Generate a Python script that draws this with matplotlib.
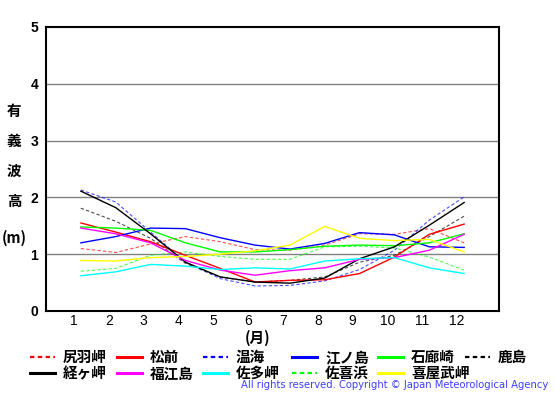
import matplotlib
matplotlib.use("Agg")
import matplotlib.pyplot as plt
from matplotlib.lines import Line2D

# Monthly mean significant wave height (m)
months = list(range(1, 13))
month_labels = [str(m) for m in months]

shiriha = [1.10, 1.03, 1.18, 1.31, 1.22, 1.08, 1.07, 1.16, 1.36, 1.35, 1.45, 1.20]
matsumae = [1.55, 1.39, 1.22, 0.98, 0.75, 0.51, 0.54, 0.55, 0.66, 0.95, 1.35, 1.53]
atsumi = [2.13, 1.92, 1.39, 0.86, 0.57, 0.44, 0.45, 0.53, 0.73, 1.07, 1.60, 2.01]
enoshima = [1.20, 1.31, 1.46, 1.45, 1.29, 1.16, 1.09, 1.19, 1.38, 1.34, 1.13, 1.12]
irozaki = [1.48, 1.46, 1.42, 1.20, 1.04, 1.04, 1.08, 1.14, 1.16, 1.15, 1.20, 1.36]
kashima = [1.81, 1.58, 1.28, 0.84, 0.60, 0.51, 0.54, 0.60, 0.86, 0.98, 1.31, 1.67]
kyogamisaki = [2.11, 1.82, 1.36, 0.86, 0.60, 0.51, 0.49, 0.58, 0.92, 1.13, 1.51, 1.91]
fukuejima = [1.46, 1.36, 1.20, 0.89, 0.72, 0.63, 0.71, 0.76, 0.91, 0.94, 1.07, 1.35]
satamisaki = [0.62, 0.69, 0.82, 0.79, 0.73, 0.76, 0.74, 0.88, 0.92, 0.94, 0.76, 0.66]
sakihama = [0.70, 0.75, 0.98, 1.04, 0.96, 0.91, 0.91, 1.13, 1.14, 1.11, 0.95, 0.72]
kyanmisaki = [0.89, 0.88, 0.94, 0.96, 1.00, 1.06, 1.16, 1.49, 1.28, 1.24, 1.26, 1.04]

# (name, values, color, dashed), in legend order (row by row)
series = [
    ("尻羽岬", shiriha, "#ff0000", True),
    ("松前", matsumae, "#ff0000", False),
    ("温海", atsumi, "#0000ff", True),
    ("江ノ島", enoshima, "#0000ff", False),
    ("石廊崎", irozaki, "#00ff00", False),
    ("鹿島", kashima, "#000000", True),
    ("経ヶ岬", kyogamisaki, "#000000", False),
    ("福江島", fukuejima, "#ff00ff", False),
    ("佐多岬", satamisaki, "#00ffff", False),
    ("佐喜浜", sakihama, "#00ff00", True),
    ("喜屋武岬", kyanmisaki, "#ffff00", False),
]

W, H = 555, 395
fig = plt.figure(figsize=(W / 100, H / 100), dpi=100)
ax = fig.add_axes([46 / W, 1 - 311 / H, 453 / W, 284 / H])

# draw order: dashed lines under solid ones
for name, vals, col, dashed in series:
    if dashed:
        ax.plot(months, vals, color=col, lw=0.8, dashes=(3, 2), alpha=0.7, zorder=2)
    else:
        ax.plot(months, vals, color=col, lw=1.0, zorder=3)

ax.set_xlim(0, 13)
ax.set_ylim(0, 5)
for yv in [1, 2, 3, 4]:
    ax.axhline(yv, color="#808080", lw=1.0, zorder=1)

ax.set_yticks([0, 1, 2, 3, 4, 5])
ax.set_yticklabels(["0", "1", "2", "3", "4", "5"], family="Liberation Sans",
                   fontweight="bold", fontsize=10)
ax.set_xticks([m - 0.2 for m in months])
ax.set_xticklabels(month_labels, family="Liberation Sans", fontsize=10)
ax.tick_params(axis="y", length=0, pad=5.5)
ax.tick_params(axis="x", length=0, pad=2)
for s in ax.spines.values():
    s.set_linewidth(1.5)
    s.set_color("black")

cjk = ["Noto Sans CJK JP", "DejaVu Sans"]

# vertical y label
for txt, yp in [("有", 111), ("義", 141), ("波", 171), ("高", 201), ("(m)", 238)]:
    fig.text(14 / W, 1 - yp / H, txt, family=cjk, fontweight="bold", fontsize=10.5,
             ha="center", va="center")

fig.text(258 / W, 1 - 338 / H, "(月)", family=cjk, fontweight="bold", fontsize=10.5,
         ha="center", va="center")

# legend, drawn by hand in two rows
col_x = [30, 117, 203, 292, 378, 465]
row_y = [357, 373]
for i, (name, vals, col, dashed) in enumerate(series):
    r, c = divmod(i, 6)
    x0 = col_x[c]
    y0 = 1 - row_y[r] / H
    ln = Line2D([x0 / W, (x0 + 25) / W], [y0, y0], transform=fig.transFigure,
                color=col, lw=2.2 if not dashed else 1.6)
    if dashed:
        ln.set_dashes((2, 1.5))
    fig.add_artist(ln)
    fig.text((x0 + 33) / W, y0, name, family=cjk, fontweight="bold", fontsize=10.5,
             ha="left", va="center")

fig.text(548 / W, 1 - 385 / H, "All rights reserved. Copyright © Japan Meteorological Agency",
         color="#3f3fff", fontsize=7.2, family="DejaVu Sans", ha="right", va="center")

fig.savefig("out.png", dpi=100)
